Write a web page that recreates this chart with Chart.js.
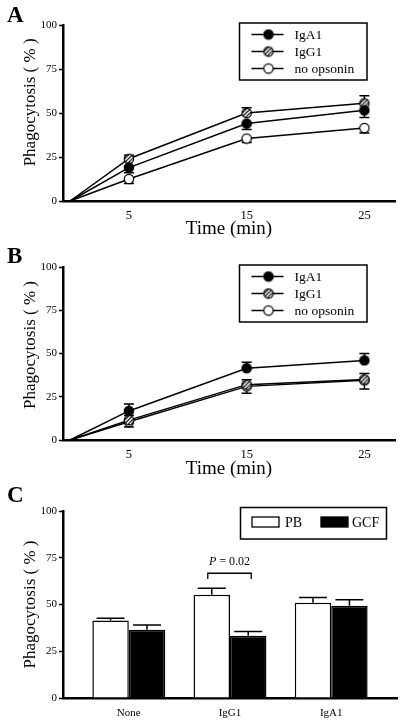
<!DOCTYPE html>
<html><head><meta charset="utf-8">
<script src="https://cdn.jsdelivr.net/npm/chart.js@4.4.0/dist/chart.umd.min.js"></script>
<style>
html,body{margin:0;padding:0;background:#fff;}
#wrap{position:relative;width:406px;height:725px;overflow:hidden;background:#fff;}
canvas{position:absolute;left:0;}
</style></head><body>
<div id="wrap">
<canvas id="cA" width="406" height="240" style="top:0"></canvas>
<canvas id="cB" width="406" height="240" style="top:240px"></canvas>
<canvas id="cC" width="406" height="245" style="top:480px"></canvas>
</div>
<script>
// ---------- data ----------
const timePoints = [0, 5, 15, 25];
const timeTicks = [5, 15, 25];
const yTicks = [0, 25, 50, 75, 100];
const seriesNames = ['IgA1', 'IgG1', 'no opsonin'];
const yTitle = 'Phagocytosis ( % )';
const xTitle = 'Time (min)';

// Panel A
const aIgA1 = [0, 19, 44, 51.5];
const aIgG1 = [0, 24, 50, 55.5];
const aNone = [0, 12.5, 35.5, 41.5];
const aIgA1Err = [0, 3, 3.4, 4];
const aIgG1Err = [0, 2, 3, 4.3];
const aNoneErr = [0, 2.5, 2.2, 2.8];

// Panel B
const bIgA1 = [0, 16.8, 41.5, 46];
const bIgG1 = [0, 11.5, 32, 35];
const bNone = [0, 10.5, 31, 34.5];
const bIgA1Err = [0, 4, 3.5, 4];
const bIgG1Err = [0, 2.6, 2.8, 3.5];
const bNoneErr = [0, 3, 4, 5];

// Panel C
const barCategories = ['None', 'IgG1', 'IgA1'];
const barSeries = ['PB', 'GCF'];
const pbValues = [41.4, 55.2, 51];
const gcfValues = [36.5, 33.3, 49.3];
const pbErr = [1.3, 3.5, 2.7];
const gcfErr = [2.6, 2.3, 3.2];
const pValueText = '= 0.02';

// ---------- styling helpers ----------
const SERIF = "'Liberation Serif', 'Times New Roman', serif";
Chart.defaults.font.family = SERIF;
Chart.defaults.color = '#000';

function makeMarker(kind) {
  const c = document.createElement('canvas');
  c.width = 12; c.height = 12;
  const g = c.getContext('2d');
  const r = 4.7;
  g.beginPath(); g.arc(6, 6, r, 0, Math.PI * 2);
  g.fillStyle = kind === 'filled' ? '#000' : '#fff';
  g.fill();
  if (kind === 'hatched') {
    g.save();
    g.beginPath(); g.arc(6, 6, r, 0, Math.PI * 2); g.clip();
    g.strokeStyle = '#000'; g.lineWidth = 1.1;
    for (let k = -12; k <= 12; k += 3.8) {
      g.beginPath(); g.moveTo(k, 12); g.lineTo(k + 12, 0); g.stroke();
    }
    g.restore();
  }
  g.lineWidth = 1.2; g.strokeStyle = '#000';
  g.beginPath(); g.arc(6, 6, r, 0, Math.PI * 2); g.stroke();
  return c;
}
const markers = [makeMarker('filled'), makeMarker('hatched'), makeMarker('open')];

const panelLetter = {
  id: 'panelLetter',
  afterDraw(chart, args, o) {
    const ctx = chart.ctx;
    ctx.save();
    ctx.font = 'bold 23px ' + SERIF;
    ctx.fillStyle = '#000';
    ctx.textBaseline = 'alphabetic';
    ctx.textAlign = 'left';
    ctx.fillText(o.text, o.x, o.y);
    ctx.restore();
  }
};

function drawErrors(chart, o) {
  const ctx = chart.ctx, ys = chart.scales.y;
  chart.data.datasets.forEach((ds, i) => {
    const meta = chart.getDatasetMeta(i);
    meta.data.forEach((el, j) => {
      const e = ds.errors[j];
      if (!e) return;
      const v = ds.data[j].y;
      const d = ds.errDir === 'up' ? 1 : -1;
      const yp = ys.getPixelForValue(v + d * e);
      ctx.save();
      ctx.strokeStyle = '#000';
      ctx.lineWidth = o.lineWidth;
      ctx.beginPath();
      ctx.moveTo(el.x, el.y); ctx.lineTo(el.x, yp);
      ctx.moveTo(el.x - o.cap / 2, yp); ctx.lineTo(el.x + o.cap / 2, yp);
      ctx.stroke();
      ctx.restore();
    });
  });
}
const errorBars = {
  id: 'errorBars',
  beforeDatasetsDraw(chart, args, o) { if (o.phase === 'before') drawErrors(chart, o); },
  afterDatasetsDraw(chart, args, o) { if (o.phase === 'after') drawErrors(chart, o); }
};

const lineLegend = {
  id: 'lineLegend',
  afterDraw(chart, args, o) {
    const ctx = chart.ctx;
    ctx.save();
    ctx.strokeStyle = '#000'; ctx.lineWidth = 1.5;
    ctx.strokeRect(o.x, o.y, o.w, o.h);
    chart.data.datasets.forEach((ds, i) => {
      const ry = o.y + o.firstRow + i * o.rowGap;
      ctx.lineWidth = 1.5;
      ctx.beginPath(); ctx.moveTo(o.x + 12, ry); ctx.lineTo(o.x + 44, ry); ctx.stroke();
      const m = ds.pointStyle;
      ctx.drawImage(m, o.x + 29 - m.width / 2, ry - m.height / 2);
      ctx.font = '13.5px ' + SERIF;
      ctx.fillStyle = '#000';
      ctx.textBaseline = 'middle';
      ctx.textAlign = 'left';
      ctx.fillText(ds.label, o.x + 55, ry + 0.5);
    });
    ctx.restore();
  }
};

function yScale(titleText) {
  return {
    min: 0, max: 100,
    afterBuildTicks: s => { s.ticks = yTicks.map(v => ({ value: v })); },
    afterFit: s => { s.width = 63; },
    grid: { display: true, drawOnChartArea: false, drawTicks: true, tickLength: 4, tickWidth: 1.5, color: '#000' },
    border: { display: true, color: '#000', width: 2.5 },
    ticks: { font: { size: 11, family: SERIF }, color: '#000', padding: 2 },
    title: { display: true, text: titleText, font: { size: 17, family: SERIF }, color: '#000', padding: { top: 20, bottom: 0 } }
  };
}

function lineChart(canvasId, letter, letterY, values, errs, dirs, padTop, xHeight, titleText) {
  const datasets = seriesNames.map((name, i) => ({
    label: name,
    data: timePoints.map((t, j) => ({ x: t, y: values[i][j] })),
    errors: errs[i],
    errDir: dirs[i],
    borderColor: '#000',
    backgroundColor: '#000',
    borderWidth: 1.5,
    pointStyle: markers[i],
    pointRadius: timePoints.map(t => (t === 0 ? 0 : 4.7)),
    pointHoverRadius: 0,
    tension: 0,
    clip: false
  }));
  return new Chart(document.getElementById(canvasId), {
    type: 'line',
    data: { datasets },
    options: {
      responsive: false, animation: false, devicePixelRatio: 1,
      layout: { padding: { top: padTop, right: 11, left: 0, bottom: 0 } },
      scales: {
        x: {
          type: 'linear', min: -0.6, max: 27.6,
          afterBuildTicks: s => { s.ticks = timeTicks.map(v => ({ value: v })); },
          afterFit: s => { s.height = xHeight; },
          grid: { display: false, drawTicks: false },
          border: { display: true, color: '#000', width: 2.5 },
          ticks: { font: { size: 12.5, family: SERIF }, color: '#000', padding: 7 },
          title: { display: true, text: xTitle, font: { size: 19, family: SERIF }, color: '#000', padding: { top: 0, bottom: 0 } }
        },
        y: yScale(titleText)
      },
      plugins: {
        legend: { display: false },
        tooltip: { enabled: false },
        errorBars: { phase: 'before', cap: 10, lineWidth: 1.5 },
        lineLegend: { x: 239.5, y: padTop - 2, w: 127.5, h: 57, firstRow: 11.5, rowGap: 17 },
        panelLetter: { text: letter, x: 7, y: letterY }
      }
    },
    plugins: [errorBars, lineLegend, panelLetter]
  });
}

// leading spaces nudge the rotated title upward to match the reference placement
lineChart('cA', 'A', 22, [aIgA1, aIgG1, aNone], [aIgA1Err, aIgG1Err, aNoneErr], ['down', 'up', 'down'], 25, 39, '     ' + yTitle);
lineChart('cB', 'B', 23, [bIgA1, bIgG1, bNone], [bIgA1Err, bIgG1Err, bNoneErr], ['up', 'up', 'down'], 27, 40, '    ' + yTitle);

// ---------- Panel C ----------
const barLegend = {
  id: 'barLegend',
  afterDraw(chart, args, o) {
    const ctx = chart.ctx;
    ctx.save();
    ctx.strokeStyle = '#000'; ctx.lineWidth = 1.5;
    ctx.strokeRect(o.x, o.y, o.w, o.h);
    const offs = [[11.5, 44.5], [80.5, 111.5]];
    chart.data.datasets.forEach((ds, i) => {
      const [sx, tx] = offs[i];
      ctx.fillStyle = ds.backgroundColor;
      ctx.fillRect(o.x + sx, o.y + 9.5, 27, 10);
      ctx.lineWidth = 1.3;
      ctx.strokeRect(o.x + sx, o.y + 9.5, 27, 10);
      ctx.fillStyle = '#000';
      ctx.font = '14px ' + SERIF;
      ctx.textBaseline = 'middle'; ctx.textAlign = 'left';
      ctx.fillText(ds.label, o.x + tx, o.y + 15.5);
    });
    ctx.restore();
  }
};

const pBracket = {
  id: 'pBracket',
  afterDraw(chart, args, o) {
    const ctx = chart.ctx, ys = chart.scales.y;
    const a = chart.getDatasetMeta(0).data[o.index];
    const b = chart.getDatasetMeta(1).data[o.index];
    const x1 = a.x - 4, x2 = b.x + 3;
    const yTop = ys.getPixelForValue(o.top), yLeg = ys.getPixelForValue(o.leg);
    ctx.save();
    ctx.strokeStyle = '#000'; ctx.lineWidth = 1.3;
    ctx.beginPath();
    ctx.moveTo(x1, yLeg); ctx.lineTo(x1, yTop); ctx.lineTo(x2, yTop); ctx.lineTo(x2, yLeg);
    ctx.stroke();
    const ty = ys.getPixelForValue(o.textAt);
    ctx.fillStyle = '#000'; ctx.textBaseline = 'middle'; ctx.textAlign = 'left';
    ctx.font = 'italic 12px ' + SERIF;
    const pw = ctx.measureText('P ').width;
    ctx.font = '12px ' + SERIF;
    const rw = ctx.measureText(pValueText).width;
    const sx = (x1 + x2) / 2 - (pw + rw) / 2;
    ctx.font = 'italic 12px ' + SERIF;
    ctx.fillText('P ', sx, ty);
    ctx.font = '12px ' + SERIF;
    ctx.fillText(pValueText, sx + pw, ty);
    ctx.restore();
  }
};

new Chart(document.getElementById('cC'), {
  type: 'bar',
  data: {
    datasets: [
      {
        label: barSeries[0],
        data: pbValues.map((v, i) => ({ x: i + 1, y: v })),
        errors: pbErr, errDir: 'up',
        backgroundColor: '#fff', borderColor: '#000', borderWidth: 1.5,
        categoryPercentage: 0.72, barPercentage: 1.0
      },
      {
        label: barSeries[1],
        data: gcfValues.map((v, i) => ({ x: i + 1, y: v })),
        errors: gcfErr, errDir: 'up',
        backgroundColor: '#000', borderColor: '#000', borderWidth: 1.5,
        categoryPercentage: 0.72, barPercentage: 1.0
      }
    ]
  },
  options: {
    responsive: false, animation: false, devicePixelRatio: 1,
    layout: { padding: { top: 31, right: 9, left: 0, bottom: 0 } },
    scales: {
      x: {
        type: 'linear', min: 0.35, max: 3.65, offset: false,
        afterBuildTicks: s => { s.ticks = barCategories.map((c, i) => ({ value: i + 1 })); },
        afterFit: s => { s.height = 27; },
        grid: { display: false, drawTicks: false, offset: false },
        border: { display: true, color: '#000', width: 2.5 },
        ticks: {
          font: { size: 11, family: SERIF }, color: '#000', padding: 9,
          callback: v => barCategories[Math.round(v) - 1]
        }
      },
      y: yScale(yTitle)
    },
    plugins: {
      legend: { display: false },
      tooltip: { enabled: false },
      errorBars: { phase: 'after', cap: 28, lineWidth: 1.5 },
      barLegend: { x: 240.5, y: 27.5, w: 146, h: 31.5 },
      pBracket: { index: 1, top: 66.7, leg: 63.7, textAt: 73 },
      panelLetter: { text: 'C', x: 7, y: 22 }
    }
  },
  plugins: [errorBars, barLegend, pBracket, panelLetter]
});
</script>
</body></html>
